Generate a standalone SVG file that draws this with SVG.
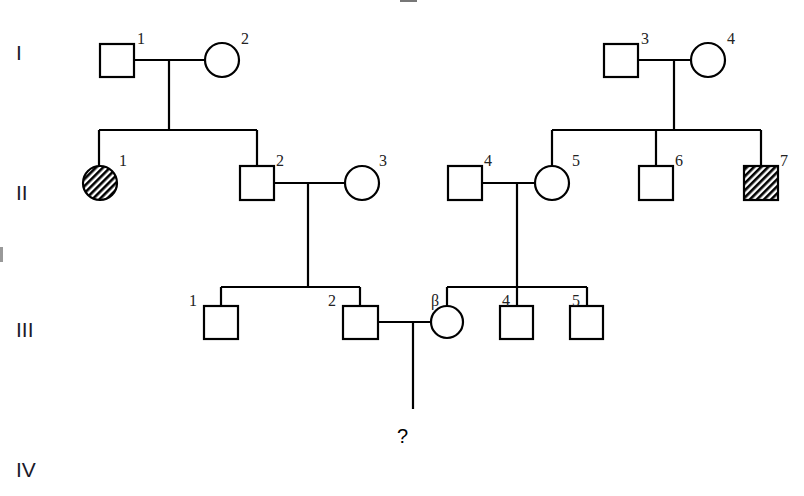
<svg xmlns="http://www.w3.org/2000/svg" width="804" height="496" viewBox="0 0 804 496">
<style>
.sym{fill:#fff;stroke:#000;stroke-width:2.2}
.aff{fill:url(#hatch);stroke:#000;stroke-width:2.2}
.ln{stroke:#000;stroke-width:2.2;fill:none}
.num{font-family:"Liberation Serif",serif;font-size:16px;fill:#222}
.gen{font-family:"Liberation Sans",Arial,sans-serif;font-size:21px;fill:#1a1a2a}
.q{font-family:"Liberation Sans",Arial,sans-serif;font-size:20px;fill:#000}
</style>
<defs>
<pattern id="hatch" patternUnits="userSpaceOnUse" width="5" height="5" patternTransform="rotate(45)">
<rect width="5" height="5" fill="#fff"/>
<rect width="2.6" height="5" fill="#000"/>
</pattern>
</defs>
<rect x="400" y="0" width="17" height="2" fill="#777"/>
<rect x="0" y="247" width="3" height="15" fill="#999"/>
<g id="connectors">
<path class="ln" d="M134 60H205M169 60V130M99 130H257M99 130V166M257 130V166"/>
<path class="ln" d="M638 60H692M674 60V130M552 130H761M552 130V166M656 130V166M761 130V166"/>
<path class="ln" d="M274 183H345M308 183V287M221 287H360M221 287V306M360 287V306"/>
<path class="ln" d="M482 183H535M517 183V306M447 287H587M447 287V306M587 287V306"/>
<path class="ln" d="M378 322H431M413 322V409"/>
</g>
<g id="I-1"><rect class="sym" x="100" y="44" width="34" height="33"/><text class="num" x="137" y="44">1</text></g>
<g id="I-2"><circle class="sym" cx="222" cy="60" r="17"/><text class="num" x="241" y="44">2</text></g>
<g id="I-3"><rect class="sym" x="604" y="44" width="34" height="33"/><text class="num" x="641" y="44">3</text></g>
<g id="I-4"><circle class="sym" cx="708" cy="60" r="17"/><text class="num" x="727" y="44">4</text></g>
<g id="II-1"><circle class="aff" cx="100" cy="183" r="17"/><text class="num" x="119" y="166">1</text></g>
<g id="II-2"><rect class="sym" x="240" y="166" width="34" height="34"/><text class="num" x="276" y="166">2</text></g>
<g id="II-3"><circle class="sym" cx="362" cy="183" r="17"/><text class="num" x="379" y="166">3</text></g>
<g id="II-4"><rect class="sym" x="448" y="166" width="34" height="34"/><text class="num" x="484" y="166">4</text></g>
<g id="II-5"><circle class="sym" cx="552" cy="183" r="17"/><text class="num" x="572" y="166">5</text></g>
<g id="II-6"><rect class="sym" x="639" y="166" width="34" height="34"/><text class="num" x="675" y="166">6</text></g>
<g id="II-7"><rect class="aff" x="744" y="166" width="34" height="34"/><text class="num" x="780" y="166">7</text></g>
<g id="III-1"><rect class="sym" x="204" y="306" width="34" height="33"/><text class="num" x="189" y="306">1</text></g>
<g id="III-2"><rect class="sym" x="343" y="306" width="35" height="33"/><text class="num" x="328" y="306">2</text></g>
<g id="III-3"><circle class="sym" cx="447" cy="322" r="16"/><text class="num" x="431" y="306">β</text></g>
<g id="III-4"><rect class="sym" x="500" y="306" width="33" height="33"/><text class="num" x="502" y="306">4</text></g>
<g id="III-5"><rect class="sym" x="570" y="306" width="33" height="33"/><text class="num" x="572" y="306">5</text></g>
<g id="IV-q"><text class="q" x="397" y="443">?</text></g>
<g id="generations">
<text class="gen" x="16" y="60">I</text>
<text class="gen" x="16" y="200">II</text>
<text class="gen" x="16" y="337">III</text>
<text class="gen" x="16" y="477">IV</text>
</g>
</svg>
